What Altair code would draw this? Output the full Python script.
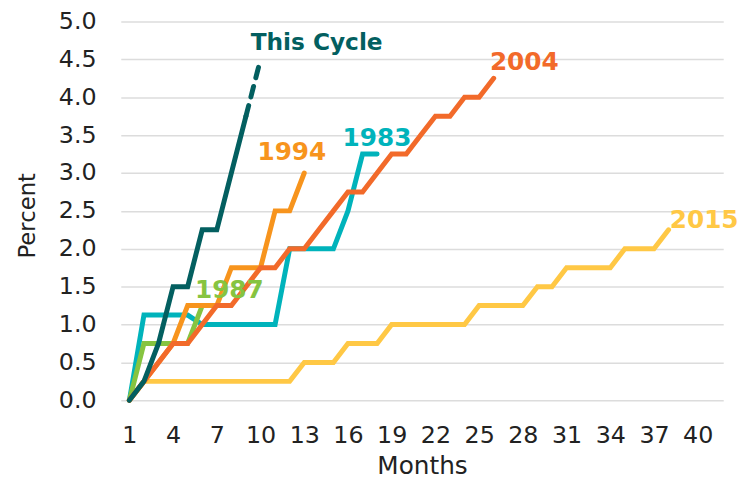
import altair as alt
import pandas as pd

# ---- data ----
this_cycle = [0, 0.25, 0.75, 1.5, 1.5, 2.25, 2.25, 3.0, 3.75]
this_cycle_proj_months = [9, 10]
this_cycle_proj = [3.75, 4.5]
c1983 = [0, 1.125, 1.125, 1.125, 1.125, 1.0, 1.0, 1.0, 1.0, 1.0, 1.0,
         2.0, 2.0, 2.0, 2.0, 2.5, 3.25, 3.25]
c1987 = [0, 0.75, 0.75, 0.75, 0.75, 1.25]
c1994 = [0, 0.25, 0.5, 0.75, 1.25, 1.25, 1.25, 1.75, 1.75, 1.75, 2.5, 2.5, 3.0]
c2004 = [0, 0.25, 0.5, 0.75, 0.75, 1.0, 1.25, 1.25, 1.5, 1.75, 1.75, 2.0, 2.0,
         2.25, 2.5, 2.75, 2.75, 3.0, 3.25, 3.25, 3.5, 3.75, 3.75, 4.0, 4.0, 4.25]
c2015 = [0, 0.25, 0.25, 0.25, 0.25, 0.25, 0.25, 0.25, 0.25, 0.25, 0.25, 0.25,
         0.5, 0.5, 0.5, 0.75, 0.75, 0.75, 1.0, 1.0, 1.0, 1.0, 1.0, 1.0,
         1.25, 1.25, 1.25, 1.25, 1.5, 1.5, 1.75, 1.75, 1.75, 1.75,
         2.0, 2.0, 2.0, 2.25]

x_ticks = [1, 4, 7, 10, 13, 16, 19, 22, 25, 28, 31, 34, 37, 40]
y_ticks = [0, 0.5, 1.0, 1.5, 2.0, 2.5, 3.0, 3.5, 4.0, 4.5, 5.0]

label_text = ["2004", "1983", "1994", "1987", "2015"]
label_month = [28.1, 17.99, 12.15, 7.86, 40.44]
label_value = [4.36, 3.354, 3.17, 1.355, 2.27]
label_color = ["#F26A2A", "#00B3BB", "#F7941D", "#86C440", "#FFC845"]

cycle_label = ["This Cycle"]
cycle_label_month = [13.85]
cycle_label_value = [4.62]

colors = {"2015": "#FFC845", "1983": "#00B3BB", "1987": "#86C440",
          "1994": "#F7941D", "2004": "#F26A2A", "This Cycle": "#035F60"}

X = alt.Scale(domain=[0.41, 41.75], nice=False, zero=False)
Y = alt.Scale(domain=[0, 5], nice=False)
XAXIS = alt.Axis(values=x_ticks, title="Months", grid=False, labelOverlap=False)
YAXIS = alt.Axis(values=y_ticks, format=".1f", title="Percent", grid=True,
                 labelOverlap=False, tickCount=11)

def line_layer(name, values, months=None, dash=None):
    if months is None:
        months = list(range(1, len(values) + 1))
    df = pd.DataFrame({"month": months, "value": values})
    kw = dict(color=colors[name], strokeWidth=5, strokeCap="round",
              strokeJoin="miter", clip=False)
    if dash:
        kw["strokeDash"] = dash
    return alt.Chart(df).mark_line(**kw).encode(
        x=alt.X("month:Q", scale=X, axis=XAXIS),
        y=alt.Y("value:Q", scale=Y, axis=YAXIS),
    )

layers = [
    line_layer("2015", c2015),
    line_layer("1983", c1983),
    line_layer("1987", c1987),
    line_layer("1994", c1994),
    line_layer("2004", c2004),
    line_layer("This Cycle", this_cycle),
    line_layer("This Cycle", this_cycle_proj, this_cycle_proj_months, dash=[11, 9]),
]

lab_df = pd.DataFrame({"text": label_text, "month": label_month,
                       "value": label_value, "color": label_color})
labels = alt.Chart(lab_df).mark_text(
    font="DejaVu Sans", fontWeight="bold", fontSize=25, align="center",
    baseline="alphabetic"
).encode(
    x=alt.X("month:Q", scale=X, axis=XAXIS),
    y=alt.Y("value:Q", scale=Y, axis=YAXIS),
    text="text:N",
    color=alt.Color("color:N", scale=None),
)

cyc_df = pd.DataFrame({"text": cycle_label, "month": cycle_label_month,
                       "value": cycle_label_value})
cycle_text = alt.Chart(cyc_df).mark_text(
    font="DejaVu Sans", fontWeight="bold", fontSize=23.5, align="center",
    baseline="alphabetic", color=colors["This Cycle"]
).encode(
    x=alt.X("month:Q", scale=X, axis=XAXIS),
    y=alt.Y("value:Q", scale=Y, axis=YAXIS),
    text="text:N",
)

chart = alt.layer(*layers, labels, cycle_text).properties(
    width=609, height=383,
    padding={"left": 114, "top": 11, "right": 21, "bottom": 81},
    autosize=alt.AutoSizeParams(type="none"),
).configure_view(stroke=None).configure_axis(
    labelFont="DejaVu Sans", titleFont="DejaVu Sans",
    labelColor="#222222", titleColor="#222222",
    titleFontWeight="normal", domain=False, ticks=False, tickSize=0,
).configure_axisY(
    labelFontSize=24, labelPadding=25, gridColor="#DCDCDC", gridWidth=1.5,
    titleFontSize=23, titleAngle=-90, titleX=-94, titleY=196,
    titleAlign="center", titleBaseline="middle",
).configure_axisX(
    labelFontSize=24, labelPadding=24, labelBaseline="top",
    titleFontSize=25, titleBaseline="alphabetic", titleY=74,
)

chart.save("out.html", embed_options={"renderer": "svg", "actions": False})
